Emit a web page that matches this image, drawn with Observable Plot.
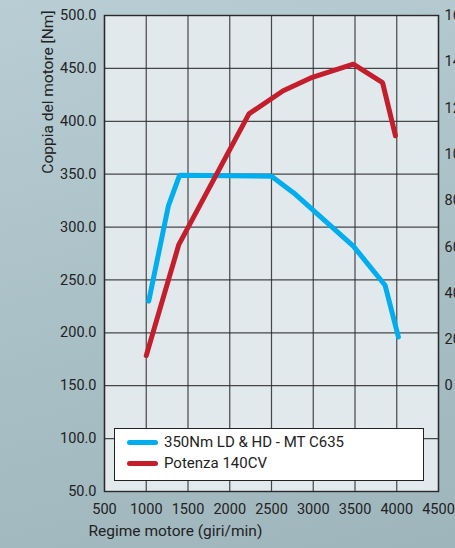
<!DOCTYPE html>
<html>
<head>
<meta charset="utf-8">
<script src="https://cdn.jsdelivr.net/npm/d3@7"></script>
<script src="https://cdn.jsdelivr.net/npm/@observablehq/plot@0.6"></script>
<style>
  html, body { margin: 0; padding: 0; width: 455px; height: 548px; overflow: hidden; }
  body { background: linear-gradient(165deg, #b8cdd4 0%, #a9bfc6 55%, #9fb5bc 100%); font-family: Roboto, "Open Sans", sans-serif; }
  #wrap { position: relative; width: 455px; height: 548px; }
  #legend { position: absolute; left: 114px; top: 428px; width: 308px; height: 51px; background: #fff; border: 1.5px solid #222; font-size: 15px; color: #222; }
  .item { position: absolute; left: 12px; display: flex; align-items: center; }
  .sw { width: 31px; height: 5px; border-radius: 3px; margin-right: 6px; }
</style>
</head>
<body>
<div id="wrap"><div id="chart"></div><div id="legend"></div></div>
<script>
// Torque curve (Nm) vs engine speed (rpm)
const torqueRpm = [1030, 1265, 1400, 2500, 2770, 3480, 3860, 4020];
const torqueNm  = [230, 320, 349, 348, 332, 282, 245, 196];
// Power curve (CV) vs engine speed (rpm), read on the right axis
const powerRpm = [1000, 1390, 2230, 2640, 2970, 3480, 3830, 3985];
const powerCV  = [13, 61, 117.5, 127.5, 133, 139, 131, 108];
// Axis ticks
const xTicks = [500, 1000, 1500, 2000, 2500, 3000, 3500, 4000, 4500];
const yTicks = [50, 100, 150, 200, 250, 300, 350, 400, 450, 500];
const rightTicks = [0, 20, 40, 60, 80, 100, 120, 140, 160];
const seriesNames = ["350Nm LD & HD - MT C635", "Potenza 140CV"];
const seriesColors = ["#00adef", "#c41e2d"];
const xTitle = "Regime motore (giri/min)";
const yTitle = "Coppia del motore [Nm]";

// right axis: 0 CV at 150 Nm level, 160 CV at 500 Nm level
const cvToNm = p => 150 + p * 350 / 160;

const torque = torqueRpm.map((r, i) => ({rpm: r, v: torqueNm[i]}));
const power = powerRpm.map((r, i) => ({rpm: r, v: cvToNm(powerCV[i])}));

const chart = Plot.plot({
  width: 455,
  height: 548,
  marginLeft: 104,
  marginRight: 17,
  marginTop: 15,
  marginBottom: 57,
  style: {fontFamily: "Roboto, sans-serif", fontSize: "14px", color: "#222", background: "transparent", overflow: "visible"},
  x: {domain: [500, 4500]},
  y: {domain: [50, 500]},
  marks: [
    Plot.frame({fill: "#e2e9ec", stroke: null}),
    Plot.gridX(xTicks, {stroke: "#2a2a2a", strokeOpacity: 0.85, strokeWidth: 1.2}),
    Plot.gridY(yTicks, {stroke: "#2a2a2a", strokeOpacity: 0.85, strokeWidth: 1.2}),
    Plot.frame({stroke: "#2a2a2a", strokeWidth: 1.4}),
    Plot.axisX(xTicks, {tickSize: 0, tickPadding: 12, tickFormat: d => String(d), label: null, fontSize: 14.5}),
    Plot.axisY(yTicks, {tickSize: 0, tickPadding: 8, tickFormat: d3.format(".1f"), label: null, fontSize: 14.5}),
    Plot.axisY(rightTicks.map(cvToNm), {anchor: "right", tickSize: 0, tickPadding: 6, tickFormat: (d, i) => String(rightTicks[i]), label: null, fontSize: 14.5}),
    Plot.line(torque, {x: "rpm", y: "v", stroke: seriesColors[0], strokeWidth: 5, strokeLinecap: "round", strokeLinejoin: "miter"}),
    Plot.line(power, {x: "rpm", y: "v", stroke: seriesColors[1], strokeWidth: 5, strokeLinecap: "round", strokeLinejoin: "miter"}),
    Plot.text([xTitle], {frameAnchor: "bottom-left", dx: -16, dy: 44, textAnchor: "start", fontSize: 15.5, fill: "#222"}),
    Plot.text([yTitle], {frameAnchor: "top-left", rotate: -90, dx: -63, dy: -5, textAnchor: "end", fontSize: 15.5, fill: "#222"})
  ]
});
document.getElementById("chart").appendChild(chart);

const legend = document.getElementById("legend");
seriesNames.forEach((name, i) => {
  const item = document.createElement("div");
  item.className = "item";
  item.style.top = (4 + i * 21) + "px";
  const sw = document.createElement("div");
  sw.className = "sw";
  sw.style.background = seriesColors[i];
  const t = document.createElement("span");
  t.textContent = name;
  item.appendChild(sw);
  item.appendChild(t);
  legend.appendChild(item);
});
</script>
</body>
</html>
